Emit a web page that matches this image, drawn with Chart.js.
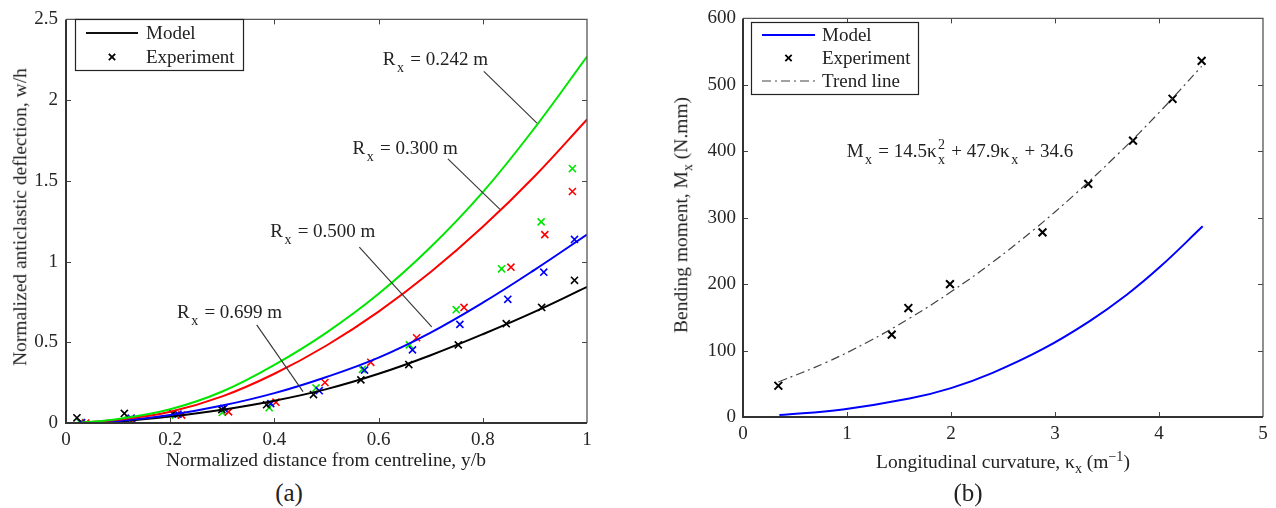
<!DOCTYPE html>
<html>
<head>
<meta charset="utf-8">
<script src="https://cdn.jsdelivr.net/npm/chart.js@4.4.0/dist/chart.umd.min.js"></script>
<style>
body { margin: 0; background: #fff; }
#wrap { position: relative; width: 1276px; height: 508px; background: #fff; overflow: hidden;
        font-family: "Liberation Serif", "Times New Roman", serif; color: #222; }
#wrap canvas { position: absolute; top: 0; }
.lbl { position: absolute; white-space: nowrap; font-size: 19.5px; line-height: 1; transform: translate(-50%, -50%); }
.rot { transform: translate(-50%, -50%) rotate(-90deg); }
.lbl sub, .lbl sup { font-size: 14px; line-height: 0; }
.big { font-size: 25px; }
</style>
</head>
<body>
<div id="wrap">
  <canvas id="chartA" width="610" height="470" style="left:0px"></canvas>
  <canvas id="chartB" width="636" height="470" style="left:640px"></canvas>

  <div class="lbl rot" style="left:20px; top:217px">Normalized anticlastic deflection, w/h</div>
  <div class="lbl" style="left:326px; top:460px">Normalized distance from centreline, y/b</div>
  <div class="lbl big" style="left:289px; top:492px">(a)</div>

  <div class="lbl rot" style="left:681px; top:215px">Bending moment, M<sub>x</sub> (N.mm)</div>
  <div class="lbl" style="left:1003px; top:462px">Longitudinal curvature, κ<sub>x</sub> (m<sup>−1</sup>)</div>
  <div class="lbl big" style="left:968px; top:492px">(b)</div>
</div>

<script>
"use strict";

// ---------- (a) normalized anticlastic deflection ----------
var yb = [0.03, 0.1, 0.2, 0.3, 0.4, 0.5, 0.6, 0.7, 0.8, 0.9, 1.0];
var model242 = [0.003, 0.025, 0.085, 0.195, 0.36, 0.56, 0.8, 1.09, 1.43, 1.83, 2.27];
var model300 = [0.002, 0.02, 0.07, 0.165, 0.305, 0.48, 0.69, 0.935, 1.215, 1.53, 1.88];
var model500 = [0.001, 0.012, 0.05, 0.108, 0.185, 0.285, 0.405, 0.56, 0.745, 0.95, 1.167];
var model699 = [0.001, 0.01, 0.04, 0.082, 0.138, 0.21, 0.305, 0.42, 0.55, 0.69, 0.843];

var exp242X = [0.027, 0.12, 0.21, 0.3, 0.39, 0.48, 0.569, 0.659, 0.749, 0.836, 0.912, 0.972];
var exp242Y = [0.004, 0.022, 0.049, 0.065, 0.095, 0.217, 0.332, 0.484, 0.702, 0.955, 1.246, 1.576];
var exp300X = [0.038, 0.129, 0.222, 0.312, 0.403, 0.497, 0.585, 0.673, 0.764, 0.854, 0.919, 0.972];
var exp300Y = [0.0, 0.018, 0.049, 0.069, 0.129, 0.251, 0.376, 0.528, 0.716, 0.965, 1.167, 1.434];
var exp500X = [0.03, 0.125, 0.215, 0.303, 0.393, 0.486, 0.573, 0.665, 0.756, 0.848, 0.917, 0.976];
var exp500Y = [0.002, 0.03, 0.055, 0.09, 0.12, 0.2, 0.328, 0.453, 0.611, 0.766, 0.934, 1.137];
var exp699X = [0.021, 0.112, 0.205, 0.299, 0.385, 0.475, 0.566, 0.658, 0.753, 0.845, 0.913, 0.976];
var exp699Y = [0.032, 0.059, 0.058, 0.083, 0.113, 0.176, 0.267, 0.362, 0.484, 0.615, 0.716, 0.884];

var xTicksA = [0, 0.2, 0.4, 0.6, 0.8, 1];
var xLabelsA = ["0", "0.2", "0.4", "0.6", "0.8", "1"];
var yTicksA = [0, 0.5, 1, 1.5, 2, 2.5];
var yLabelsA = ["0", "0.5", "1", "1.5", "2", "2.5"];

// ---------- (b) bending moment ----------
var kappaModel = [0.35, 0.96, 1.6, 2.0, 2.4, 2.88, 3.33, 3.69, 4.01, 4.42];
var momentModel = [3, 11.4, 27.7, 43.5, 66.5, 102, 144, 184, 226, 287];
var kappaExp = [0.34, 1.43, 1.59, 1.99, 2.88, 3.32, 3.75, 4.13, 4.41];
var momentExp = [47, 124, 164, 200, 278, 351, 416, 479, 536];
var kappaTrend = [0.34, 0.8, 1.2, 1.6, 2.0, 2.4, 2.8, 3.2, 3.6, 4.0, 4.41];
var momentTrend = [52.6, 82.2, 113, 148.4, 188.4, 233.1, 282.4, 336.4, 395, 458.2, 527.8];

var xTicksB = [0, 1, 2, 3, 4, 5];
var xLabelsB = ["0", "1", "2", "3", "4", "5"];
var yTicksB = [0, 100, 200, 300, 400, 500, 600];
var yLabelsB = ["0", "100", "200", "300", "400", "500", "600"];

var FONT = '"Liberation Serif", "Times New Roman", serif';
var GREEN = "#00e600", RED = "#ff0000", BLUE = "#0000ff";

function pts(xs, ys) {
	return xs.map(function (x, i) { return { x: x, y: ys[i] }; });
}
function curve(xs, ys, color, extra) {
	var d = { data: pts(xs, ys), showLine: true, borderColor: color, borderWidth: 2,
		pointRadius: 0, tension: 0.4, fill: false };
	return Object.assign(d, extra || {});
}
function marks(xs, ys, color, r, w) {
	return { data: pts(xs, ys), showLine: false, pointStyle: "crossRot", pointRadius: r,
		borderColor: color, backgroundColor: color, pointBorderWidth: w, borderWidth: w };
}

// text with sub/superscripts: mode 0 normal, 1 subscript, 2 superscript over last subscript
function richText(ctx, x, y, parts, size) {
	var small = Math.round(size * 0.72);
	var subX = x;
	ctx.textAlign = "left";
	ctx.textBaseline = "middle";
	parts.forEach(function (p) {
		if (p[1] === 0) {
			ctx.font = size + "px " + FONT;
			ctx.fillText(p[0], x, y);
			x += ctx.measureText(p[0]).width;
		} else if (p[1] === 1) {
			ctx.font = small + "px " + FONT;
			subX = x + 1.5;
			ctx.fillText(p[0], subX, y + size * 0.45);
			x = subX + ctx.measureText(p[0]).width + 1.5;
		} else {
			ctx.font = small + "px " + FONT;
			ctx.fillText(p[0], subX, y - size * 0.35);
			x = Math.max(x, subX + ctx.measureText(p[0]).width + 1);
		}
	});
}

function drawCross(ctx, x, y, r, w, color) {
	var d = r * Math.SQRT1_2;
	ctx.save();
	ctx.strokeStyle = color;
	ctx.lineWidth = w;
	ctx.beginPath();
	ctx.moveTo(x - d, y - d); ctx.lineTo(x + d, y + d);
	ctx.moveTo(x - d, y + d); ctx.lineTo(x + d, y - d);
	ctx.stroke();
	ctx.restore();
}

// box, inward ticks, legend and notes
var decor = {
	id: "decor",
	afterDraw: function (chart, args, opt) {
		var ctx = chart.ctx, a = chart.chartArea;
		var xs = chart.scales.x, ys = chart.scales.y;
		ctx.save();
		ctx.strokeStyle = "#444";
		ctx.lineWidth = 1;
		ctx.beginPath();
		xs.ticks.forEach(function (t) {
			var px = Math.round(xs.getPixelForValue(t.value)) + 0.5;
			if (px <= a.left + 1 || px >= a.right - 1) return;
			ctx.moveTo(px, a.bottom); ctx.lineTo(px, a.bottom - 5);
			ctx.moveTo(px, a.top); ctx.lineTo(px, a.top + 5);
		});
		ys.ticks.forEach(function (t) {
			var py = Math.round(ys.getPixelForValue(t.value)) + 0.5;
			if (py <= a.top + 1 || py >= a.bottom - 1) return;
			ctx.moveTo(a.left, py); ctx.lineTo(a.left + 5, py);
			ctx.moveTo(a.right, py); ctx.lineTo(a.right - 5, py);
		});
		ctx.stroke();

		ctx.strokeStyle = "#555";
		ctx.lineWidth = 1.3;
		ctx.beginPath();
		ctx.moveTo(a.left, a.top); ctx.lineTo(a.right, a.top); ctx.lineTo(a.right, a.bottom);
		ctx.stroke();
		ctx.strokeStyle = "#333";
		ctx.lineWidth = 2;
		ctx.beginPath();
		ctx.moveTo(a.left, a.top); ctx.lineTo(a.left, a.bottom); ctx.lineTo(a.right, a.bottom);
		ctx.stroke();

		// legend
		var lg = opt.legend;
		ctx.fillStyle = "#fff";
		ctx.fillRect(lg.box[0], lg.box[1], lg.box[2], lg.box[3]);
		ctx.strokeStyle = "#222";
		ctx.lineWidth = 1.2;
		ctx.strokeRect(lg.box[0] + 0.5, lg.box[1] + 0.5, lg.box[2], lg.box[3]);
		lg.items.forEach(function (it) {
			if (it.kind === "line") {
				ctx.save();
				ctx.strokeStyle = it.color;
				ctx.lineWidth = it.width;
				ctx.setLineDash(it.dash || []);
				ctx.beginPath();
				ctx.moveTo(lg.x0, it.y); ctx.lineTo(lg.x1, it.y);
				ctx.stroke();
				ctx.restore();
			} else {
				drawCross(ctx, (lg.x0 + lg.x1) / 2, it.y, 4.5, 1.8, it.color);
			}
			ctx.fillStyle = "#222";
			ctx.font = lg.size + "px " + FONT;
			ctx.textAlign = "left";
			ctx.textBaseline = "middle";
			ctx.fillText(it.text, lg.tx, it.y + 1);
		});

		// notes anchored in data units
		ctx.fillStyle = "#222";
		(opt.notes || []).forEach(function (n) {
			richText(ctx, xs.getPixelForValue(n.at[0]), ys.getPixelForValue(n.at[1]), n.parts, opt.size);
			if (n.lead) {
				ctx.strokeStyle = "#333";
				ctx.lineWidth = 1.1;
				ctx.beginPath();
				ctx.moveTo(xs.getPixelForValue(n.lead[0]), ys.getPixelForValue(n.lead[1]));
				ctx.lineTo(xs.getPixelForValue(n.lead[2]), ys.getPixelForValue(n.lead[3]));
				ctx.stroke();
			}
		});
		ctx.restore();
	}
};

function axis(min, max, vals, labels, horiz, size, pad) {
	return {
		type: "linear", min: min, max: max,
		afterBuildTicks: function (s) { s.ticks = vals.map(function (v) { return { value: v }; }); },
		afterFit: function (s) { if (horiz) { s.height = size; } else { s.width = size; } },
		grid: { display: false, drawTicks: false },
		border: { display: false },
		ticks: { padding: pad, color: "#262626", font: { family: FONT, size: 19 },
			maxRotation: 0, autoSkip: false,
			callback: function (v, i) { return labels[i]; } }
	};
}

function buildCharts() {
	new Chart(document.getElementById("chartA"), {
		type: "scatter",
		data: { datasets: [
			curve(yb, model242, GREEN),
			curve(yb, model300, RED),
			curve(yb, model500, BLUE),
			curve(yb, model699, "#000"),
			marks(exp699X, exp699Y, "#000", 5, 1.6),
			marks(exp500X, exp500Y, BLUE, 5, 1.6),
			marks(exp300X, exp300Y, RED, 5, 1.6),
			marks(exp242X, exp242Y, GREEN, 5, 1.6)
		] },
		options: {
			responsive: false, animation: false, events: [],
			layout: { padding: { left: 0, top: 11, right: 23, bottom: 0 } },
			scales: {
				x: axis(0, 1, xTicksA, xLabelsA, true, 47, 6),
				y: axis(0, 2.5, yTicksA, yLabelsA, false, 66, 8)
			},
			plugins: {
				legend: { display: false }, tooltip: { enabled: false },
				decor: {
					size: 19,
					legend: { box: [75, 19, 168, 51], x0: 86, x1: 138, tx: 146, size: 19, items: [
						{ kind: "line", color: "#111", width: 2, text: "Model", y: 33 },
						{ kind: "mark", color: "#000", text: "Experiment", y: 57 }
					] },
					notes: [
						{ at: [0.608, 2.247], parts: [["R", 0], ["x", 1], [" = 0.242 m", 0]], lead: [0.802, 2.178, 0.904, 1.857] },
						{ at: [0.550, 1.697], parts: [["R", 0], ["x", 1], [" = 0.300 m", 0]], lead: [0.733, 1.636, 0.833, 1.323] },
						{ at: [0.392, 1.183], parts: [["R", 0], ["x", 1], [" = 0.500 m", 0]], lead: [0.563, 1.09, 0.702, 0.595] },
						{ at: [0.213, 0.680], parts: [["R", 0], ["x", 1], [" = 0.699 m", 0]], lead: [0.366, 0.608, 0.455, 0.194] }
					]
				}
			}
		},
		plugins: [decor]
	});

	new Chart(document.getElementById("chartB"), {
		type: "scatter",
		data: { datasets: [
			curve(kappaTrend, momentTrend, "#444", { borderWidth: 1.2, borderDash: [9, 4, 2, 4] }),
			curve(kappaModel, momentModel, BLUE),
			marks(kappaExp, momentExp, "#000", 5.5, 2)
		] },
		options: {
			responsive: false, animation: false, events: [],
			layout: { padding: { left: 0, top: 13, right: 13, bottom: 0 } },
			scales: {
				x: axis(0, 5, xTicksB, xLabelsB, true, 53, 6),
				y: axis(0, 600, yTicksB, yLabelsB, false, 103, 7)
			},
			plugins: {
				legend: { display: false }, tooltip: { enabled: false },
				decor: {
					size: 19,
					legend: { box: [111, 22, 167, 72], x0: 122, x1: 175, tx: 182, size: 19, items: [
						{ kind: "line", color: BLUE, width: 2, text: "Model", y: 35 },
						{ kind: "mark", color: "#000", text: "Experiment", y: 58 },
						{ kind: "line", color: "#444", width: 1.2, dash: [9, 4, 2, 4], text: "Trend line", y: 81 }
					] },
					notes: [
						{ at: [0.997, 399], parts: [["M", 0], ["x", 1], [" = 14.5κ", 0], ["x", 1], ["2", 2],
							[" + 47.9κ", 0], ["x", 1], [" + 34.6", 0]] }
					]
				}
			}
		},
		plugins: [decor]
	});
}

buildCharts();
</script>
</body>
</html>
